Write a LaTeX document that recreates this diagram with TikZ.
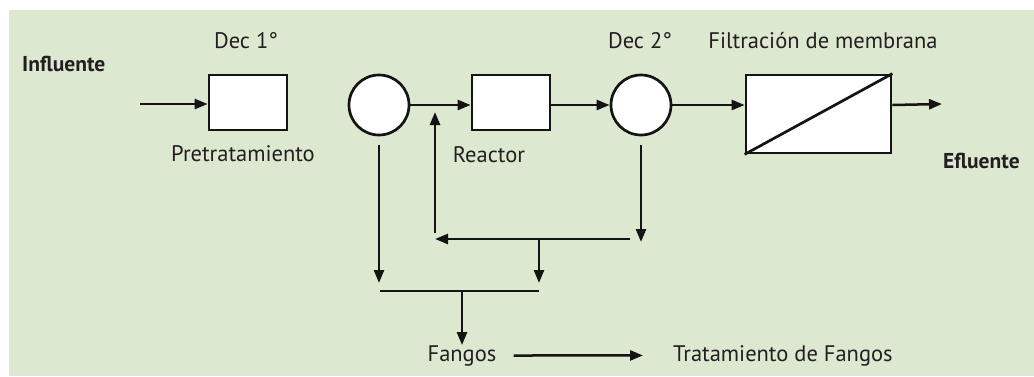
\documentclass[tikz,border=0pt]{standalone}
\usepackage{fontspec}
\setmainfont{PT Sans}
\usetikzlibrary{arrows.meta,positioning,calc}
\definecolor{panelGreen}{RGB}{221,232,208}
\definecolor{lineBlack} {RGB}{ 20, 20, 20}
\definecolor{textDark}  {RGB}{ 35, 31, 32}

\begin{document}
\begin{tikzpicture}[x=1pt,y=-1pt,
    flow/.style={-{Triangle[length=13pt,width=10pt]},line width=2.5pt,draw=lineBlack},
    pipe/.style={line width=2.5pt,draw=lineBlack},
    unit/.style={draw=lineBlack,fill=white,line width=2.7pt,minimum width=78pt,minimum height=55pt,inner sep=0pt},
    settler/.style={draw=lineBlack,fill=white,line width=2.7pt,circle,minimum size=60pt,inner sep=0pt},
    lbl/.style={font=\fontsize{22.5}{27}\selectfont,text=textDark,inner sep=0pt,anchor=base},
    lblbold/.style={lbl,font=\fontsize{21.5}{26}\selectfont\bfseries}]
  \useasboundingbox (0,0) rectangle (1034,376);
  \fill[panelGreen] (9,10) rectangle (1034,376);

  % process units
  \node[unit] (pre) at (248,102.5) {};
  \node[settler] (dec1) at (379,105) {};
  \node[unit] (reac) at (511,102.5) {};
  \node[settler] (dec2) at (641,105) {};
  \node[unit,minimum width=145pt,minimum height=78pt] (memb) at (818.5,114) {};
  \draw[line width=2.7pt,lineBlack] (memb.south west) -- (memb.north east);

  % labels
  \node[lblbold,anchor=base west] (infl) at (22,71) {Influente};
  \node[lbl] (dec1lbl) at (246,48) {Dec 1°};
  \node[lbl] (prelbl) at (243,161) {Pretratamiento};
  \node[lbl] (reaclbl) at (489,162) {Reactor};
  \node[lbl] (dec2lbl) at (640,48) {Dec 2°};
  \node[lbl] (memblbl) at (823,48) {Filtración de membrana};
  \node[lblbold,anchor=base west] (eflu) at (943,168) {Efluente};
  \node[lbl] (fangos) at (462,361) {Fangos};
  \node[lbl,anchor=base west] (trat) at (673,361) {Tratamiento de Fangos};

  % junctions
  \coordinate (inflow) at (140,104);
  \coordinate (outflow) at (942,104);
  \coordinate (rL) at (380,291);
  \coordinate (rR) at (539,291);
  \coordinate (rM) at (462,291);
  \coordinate (fb) at (435,239);
  \coordinate (rS) at (539,239);
  \coordinate (c2d) at (638,239);

  % main line
  \draw[flow] (inflow) -- (inflow -| pre.west);
  \draw[flow] (dec1.east) -- (dec1.east -| reac.west);
  \draw[flow] (dec2.west -| reac.east) -- (dec2.west);
  \draw[flow] (dec2.east) -- (dec2.east -| memb.west);
  \draw[flow] (dec2.east -| memb.east) -- (outflow);

  % sludge and recycle
  \draw[flow,shorten <=9pt,shorten >=8pt] (dec1.south) -- (dec1.south |- rL);
  \draw[flow,shorten <=9pt,shorten >=-3pt] (dec2.south) -- (dec2.south |- c2d);
  \draw[flow] ([xshift=-8pt]c2d) -- (fb);
  \draw[flow,shorten <=6pt,shorten >=7pt] (fb) -- (fb |- dec1.east);
  \draw[flow,shorten >=8pt] (rS) -- (rS |- rR);
  \draw[pipe] (rL) -- (rR);
  \draw[flow] (rM) -- (rM |- fangos.north);
  \draw[flow,shorten <=17pt,shorten >=30pt] (fangos.east) -- (trat.west);
\end{tikzpicture}
\end{document}
